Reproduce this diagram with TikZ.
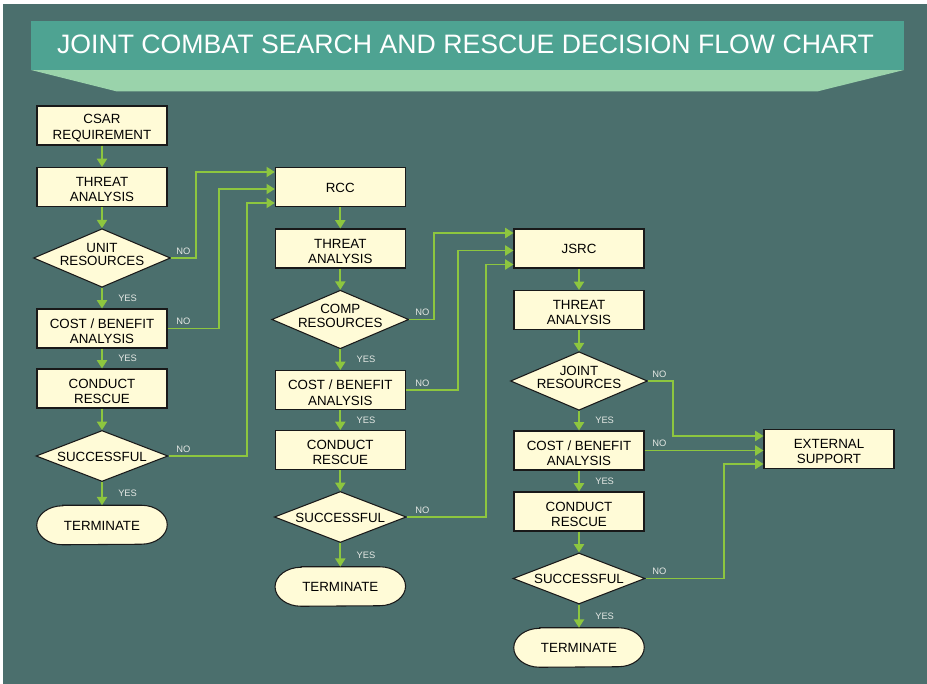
\documentclass[tikz,border=0pt]{standalone}
\usepackage{fontspec}
\setmainfont{Liberation Sans}
\usetikzlibrary{arrows.meta,calc,shapes.geometric}
\definecolor{bgc}{HTML}{4B6F6D}
\definecolor{bannerc}{HTML}{4EA392}
\definecolor{trapc}{HTML}{9AD3AB}
\definecolor{creamc}{HTML}{FFFBD7}
\definecolor{greenc}{HTML}{8DC63F}
\definecolor{ync}{HTML}{E4E8E4}
\pgfdeclarelayer{back}
\pgfdeclarelayer{mid}
\pgfsetlayers{back,mid,main}
\tikzset{
  boxshape/.style={draw=black!90, line width=0.8pt, fill=creamc, minimum width=97.5pt,
    minimum height=29.25pt, inner sep=0pt},
  blbl/.style={font=\fontsize{10}{11.5}\selectfont, align=center, inner sep=0pt},
  box/.style={boxshape, label={[blbl, yshift=-2pt]center:{#1}}},
  box1/.style={boxshape, label={[blbl, yshift=-0.6pt]center:{#1}}},
  termbox/.style={minimum width=97.5pt, minimum height=29.25pt, inner sep=0pt,
    label={[blbl, yshift=-0.6pt]center:{#1}}},
  termline/.style={draw=black!90, line width=0.8pt, fill=creamc},
  dec/.style={diamond, draw=black!90, line width=0.8pt, fill=creamc, inner sep=0pt,
    minimum width=102.75pt, minimum height=43.9pt,
    label={[dlbl, yshift=2.6pt]center:{#1}}},
  decs/.style={diamond, draw=black!90, line width=0.8pt, fill=creamc, inner sep=0pt,
    minimum width=99pt, minimum height=38.25pt,
    label={[dlbl, yshift=-0.5pt]center:{#1}}},
  dlbl/.style={font=\fontsize{10}{10}\selectfont, align=center, inner sep=0pt},
  conn/.style={draw=greenc, line width=1.4pt, -{Triangle[length=6.2pt,width=7.5pt]}},
  yn/.style={font=\fontsize{7}{8}\selectfont, text=ync, inner sep=0pt},
  ttl/.style={font=\fontsize{20}{24}\selectfont, text=white, inner sep=0pt}
}
\newcommand{\termshape}[1]{%
  \draw[termline] ($(#1.north west)+(26,0)$) -- ($(#1.north east)+(-26,0)$)
    arc[start angle=-90, end angle=90, x radius=26, y radius=19.5]
    -- ($(#1.south west)+(26,0)$)
    arc[start angle=90, end angle=270, x radius=26, y radius=19.5] -- cycle;}
\begin{document}
\begin{tikzpicture}[x=0.75pt, y=-0.75pt]
\useasboundingbox (0,0) rectangle (927,684);
\begin{pgfonlayer}{back}
  \fill[white] (0,0) rectangle (927,684);
  \fill[bgc] (3,4) rectangle (927,684);
  \fill[trapc] (31,70) -- (904,70) -- (817,91.5) -- (117,91.5) -- cycle;
  \fill[bannerc] (31,21) rectangle (904,70);
\end{pgfonlayer}
\node[ttl, anchor=base] (title) at (465.5,53.3) {JOINT COMBAT SEARCH AND RESCUE DECISION FLOW CHART};

% column 1
\node[box={CSAR\\REQUIREMENT}] (csar) at (102,125.5) {};
\node[box={THREAT\\ANALYSIS}] (th1) at (102,187) {};
\node[dec={UNIT\\RESOURCES}] (d1) at (102,258) {};
\node[box={COST / BENEFIT\\ANALYSIS}] (cb1) at (102,328.5) {};
\node[box={CONDUCT\\RESCUE}] (cr1) at (102,388.5) {};
\node[decs={SUCCESSFUL}] (s1) at (102,456) {};
\node[termbox={TERMINATE}] (t1) at (102,525) {};

% column 2
\node[box1={RCC}] (rcc) at (340.3,187) {};
\node[box={THREAT\\ANALYSIS}] (th2) at (340.3,248.5) {};
\node[dec={COMP\\RESOURCES}] (d2) at (340.3,319.5) {};
\node[box={COST / BENEFIT\\ANALYSIS}] (cb2) at (340.3,390) {};
\node[box={CONDUCT\\RESCUE}] (cr2) at (340.3,450) {};
\node[decs={SUCCESSFUL}] (s2) at (340.3,517) {};
\node[termbox={TERMINATE}] (t2) at (340.3,586.5) {};

% column 3
\node[box1={JSRC}] (jsrc) at (579,248.5) {};
\node[box={THREAT\\ANALYSIS}] (th3) at (579,310) {};
\node[dec={JOINT\\RESOURCES}] (d3) at (579,381) {};
\node[box={COST / BENEFIT\\ANALYSIS}] (cb3) at (579,450.5) {};
\node[box={CONDUCT\\RESCUE}] (cr3) at (579,511.5) {};
\node[decs={SUCCESSFUL}] (s3) at (579,578.5) {};
\node[termbox={TERMINATE}] (t3) at (579,647.5) {};

\node[box={EXTERNAL\\SUPPORT}] (ext) at (829,449) {};

\begin{pgfonlayer}{mid}
  \termshape{t1}
  \termshape{t2}
  \termshape{t3}
\end{pgfonlayer}

% vertical flow
\draw[conn] (csar) -- (th1);
\draw[conn] (th1) -- (d1);
\draw[conn] (d1) -- node[yn, anchor=west, xshift=11.5pt] (y1) {YES} (cb1);
\draw[conn] (cb1) -- node[yn, anchor=west, xshift=11.5pt] (y2) {YES} (cr1);
\draw[conn] (cr1) -- (s1);
\draw[conn] (s1) -- node[yn, anchor=west, xshift=11.5pt] (y3) {YES} (t1);

\draw[conn] (rcc) -- (th2);
\draw[conn] (th2) -- (d2);
\draw[conn] (d2) -- node[yn, anchor=west, xshift=11.5pt] (y4) {YES} (cb2);
\draw[conn] (cb2) -- node[yn, anchor=west, xshift=11.5pt] (y5) {YES} (cr2);
\draw[conn] (cr2) -- (s2);
\draw[conn] (s2) -- node[yn, anchor=west, xshift=11.5pt] (y6) {YES} (t2);

\draw[conn] (jsrc) -- (th3);
\draw[conn] (th3) -- (d3);
\draw[conn] (d3) -- node[yn, anchor=west, xshift=11.5pt] (y7) {YES} (cb3);
\draw[conn] (cb3) -- node[yn, anchor=west, xshift=11.5pt] (y8) {YES} (cr3);
\draw[conn] (cr3) -- (s3);
\draw[conn] (s3) -- node[yn, anchor=west, xshift=11.5pt] (y9) {YES} (t3);

% NO branches to RCC
\draw[conn] (d1.east) -- (196,258) |- ($(rcc.west)+(0,-15)$);
\draw[conn] (cb1.east) -- (219,328.5) |- ($(rcc.west)+(0,2)$);
\draw[conn] (s1.east) -- (247,456) |- ($(rcc.west)+(0,16)$);
% NO branches to JSRC
\draw[conn] (d2.east) -- (434,319.5) |- ($(jsrc.west)+(0,-15.5)$);
\draw[conn] (cb2.east) -- (458,390) |- ($(jsrc.west)+(0,2)$);
\draw[conn] (s2.east) -- (486,517) |- ($(jsrc.west)+(0,16)$);
% NO branches to EXTERNAL SUPPORT
\draw[conn] (d3.east) -- (673,381) |- ($(ext.west)+(0,-13)$);
\draw[conn] (cb3.east) -- (cb3.east -| ext.west);
\draw[conn] (s3.east) -- (724,578.5) |- ($(ext.west)+(0,15)$);

% NO labels
\node[yn, anchor=west] (n1) at (176,251) {NO};
\node[yn, anchor=west] (n2) at (176,321.5) {NO};
\node[yn, anchor=west] (n3) at (176,449) {NO};
\node[yn, anchor=west] (n4) at (415,312.5) {NO};
\node[yn, anchor=west] (n5) at (415,383) {NO};
\node[yn, anchor=west] (n6) at (415,510) {NO};
\node[yn, anchor=west] (n7) at (652,374) {NO};
\node[yn, anchor=west] (n8) at (652,443.5) {NO};
\node[yn, anchor=west] (n9) at (652,571.5) {NO};
\end{tikzpicture}
\end{document}
